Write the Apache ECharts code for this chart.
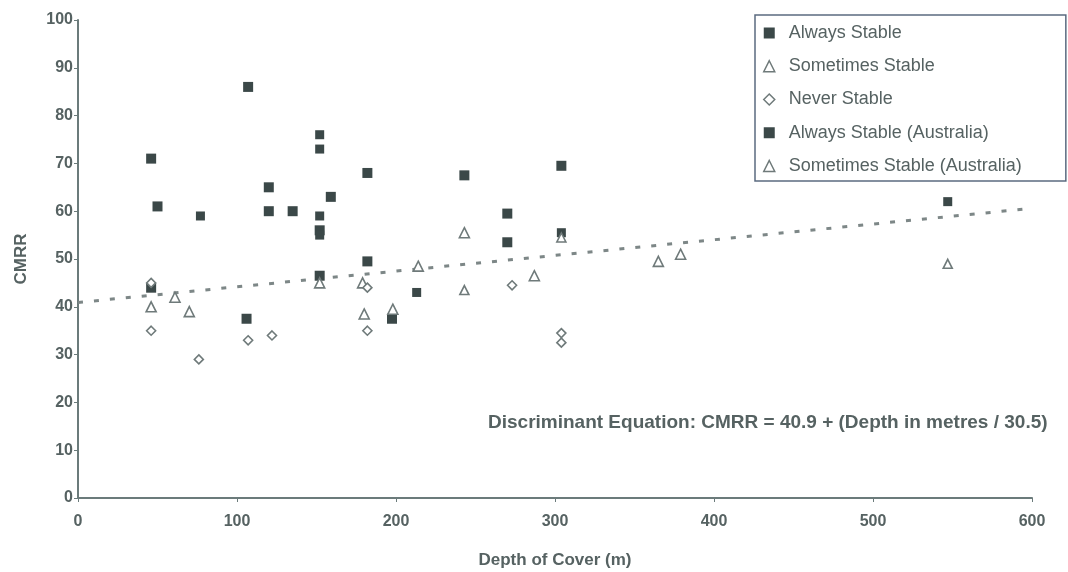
<!DOCTYPE html>
<html>
<head>
<meta charset="utf-8">
<script src="https://cdn.jsdelivr.net/npm/echarts@6/dist/echarts.min.js"></script>
<style>
html,body{margin:0;padding:0;background:#fff;}
#chart{width:1068px;height:572px;}
</style>
</head>
<body>
<div id="chart"></div>
<script>
// Depth of cover (m), CMRR
const alwaysStable = [[46,71],[50,61],[107,86],[120,65],[120,60],[135,60],[159,63],[152,56],[182,68],[243,67.5],[270,59.5],[270,53.5],[304,69.5],[46,44],[106,37.5],[152,46.5],[182,49.5],[197.5,37.5]];
const alwaysStableAus = [[77,59],[152,76],[152,73],[152,59],[152,55],[213,43],[304,55.5],[547,62]];
const sometimesStable = [[46,40],[61,42],[70,39],[180,38.5],[214,48.5],[243,55.5],[287,46.5],[365,49.5],[379,51],[152,45],[179,45],[198,39.5]];
const sometimesStableAus = [[243,43.5],[304,54.5],[547,49]];
const neverStable = [[46,45],[46,35],[76,29],[107,33],[122,34],[182,44],[182,35],[273,44.5],[304,34.5],[304,32.5]];
const trendLine = [[0,40.9],[600,60.6]];
const seriesNames = ['Always Stable','Sometimes Stable','Never Stable','Always Stable (Australia)','Sometimes Stable (Australia)'];
const equationText = 'Discriminant Equation: CMRR = 40.9 + (Depth in metres / 30.5)';
const xName = 'Depth of Cover (m)';
const yName = 'CMRR';

const textCol = '#566262';
const axisCol = '#6b7b7b';
const sqCol = '#3b4848';
const openCol = '#6f7a7a';
const font = 'Liberation Sans, Arial, sans-serif';

const chart = echarts.init(document.getElementById('chart'));
chart.setOption({
  animation: false,
  backgroundColor: '#fff',
  grid: {left: 78, right: 36, top: 20, bottom: 74, containLabel: false, outerBoundsMode: 'none'},
  xAxis: {
    type: 'value', min: 0, max: 600, interval: 100,
    name: xName, nameLocation: 'middle', nameGap: 54,
    nameTextStyle: {color: textCol, fontSize: 17, fontWeight: 'bold', fontFamily: font},
    axisLine: {lineStyle: {color: axisCol, width: 2}},
    axisTick: {show: true, length: 4, lineStyle: {color: axisCol}},
    axisLabel: {color: textCol, fontSize: 16, fontWeight: 'bold', fontFamily: font, margin: 16},
    splitLine: {show: false}
  },
  yAxis: {
    type: 'value', min: 0, max: 100, interval: 10,
    name: yName, nameLocation: 'middle', nameGap: 48,
    nameTextStyle: {color: textCol, fontSize: 17, fontWeight: 'bold', fontFamily: font},
    axisLine: {show: true, lineStyle: {color: axisCol, width: 2}},
    axisTick: {show: true, length: 4, lineStyle: {color: axisCol}},
    axisLabel: {color: textCol, fontSize: 16, fontWeight: 'bold', fontFamily: font, margin: 5},
    splitLine: {show: false}
  },
  legend: {
    orient: 'vertical', left: 755, top: 15,
    data: seriesNames,
    itemWidth: 11, itemHeight: 11, itemGap: 15.25, itemStyle: {borderWidth: 1.5},
    padding: [9, 44, 6, 8],
    borderColor: '#5b6b80', borderWidth: 1.5,
    textStyle: {color: textCol, fontSize: 18, fontFamily: font, lineHeight: 18, padding: [0, 0, 0, 9]}
  },
  graphic: [{
    type: 'text', left: 488, top: 413,
    style: {text: equationText, fill: textCol, fontSize: 19, fontWeight: 'bold', fontFamily: font}
  }],
  series: [
    {name: 'trend', type: 'line', data: trendLine, symbol: 'none', silent: true, z: 1,
     lineStyle: {color: '#7d8787', width: 3, type: [5, 11]}},
    {name: seriesNames[0], type: 'scatter', data: alwaysStable, symbol: 'rect', symbolSize: 10,
     itemStyle: {color: sqCol, opacity: 1}, z: 3},
    {name: seriesNames[1], type: 'scatter', data: sometimesStable, symbol: 'triangle', symbolSize: 10,
     itemStyle: {color: '#fff', borderColor: openCol, borderWidth: 1.6, opacity: 1}, z: 4},
    {name: seriesNames[2], type: 'scatter', data: neverStable, symbol: 'diamond', symbolSize: 9,
     itemStyle: {color: '#fff', borderColor: openCol, borderWidth: 1.6, opacity: 1}, z: 4},
    {name: seriesNames[3], type: 'scatter', data: alwaysStableAus, symbol: 'rect', symbolSize: 9,
     itemStyle: {color: sqCol, opacity: 1}, z: 3},
    {name: seriesNames[4], type: 'scatter', data: sometimesStableAus, symbol: 'triangle', symbolSize: 9,
     itemStyle: {color: '#fff', borderColor: openCol, borderWidth: 1.6, opacity: 1}, z: 4}
  ]
});
</script>
</body>
</html>
